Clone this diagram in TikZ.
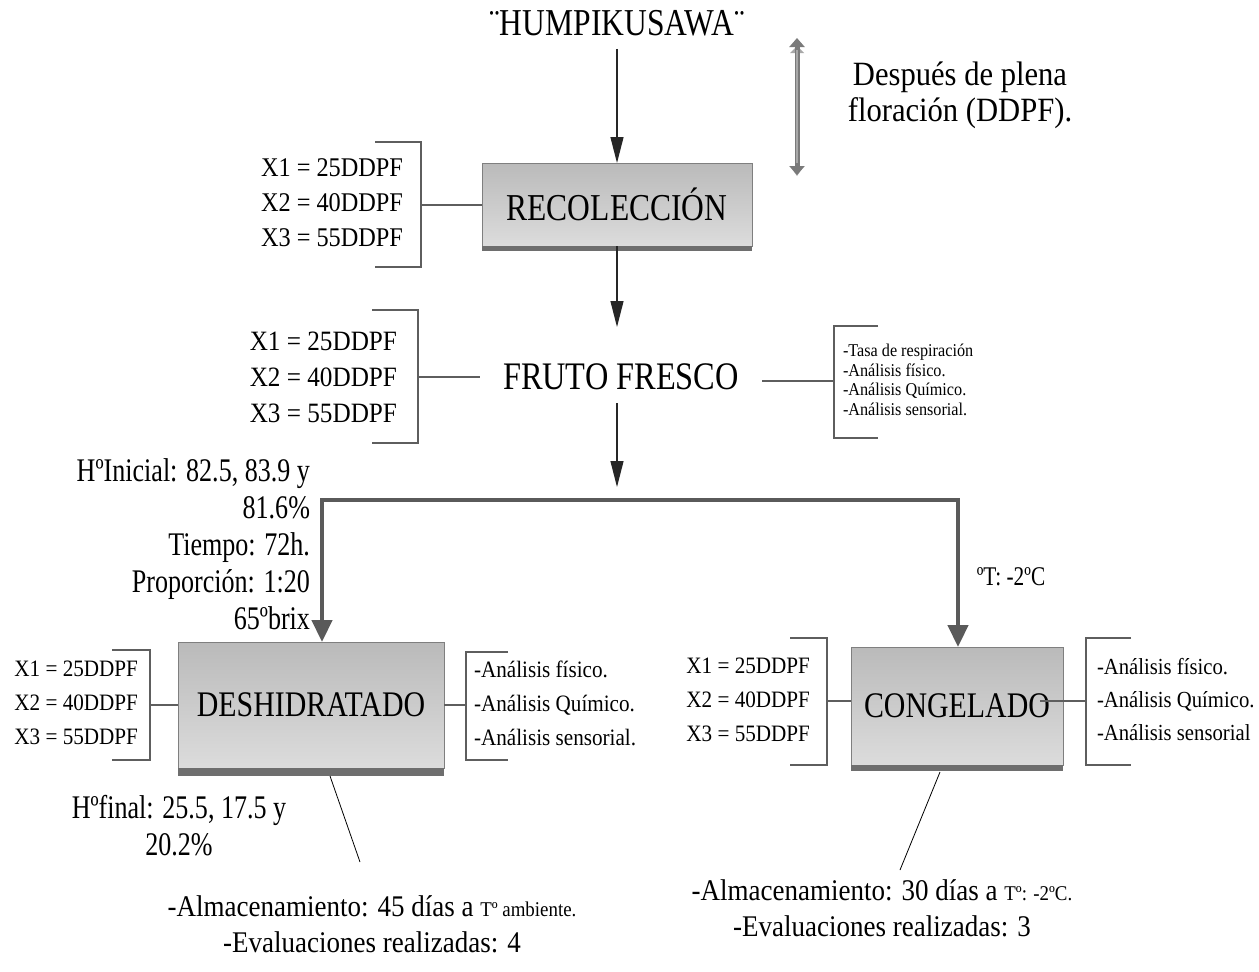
\documentclass[tikz,border=0pt]{standalone}
\usepackage{fontspec}
\setmainfont{Liberation Serif}[FakeStretch=0.9]
\newfontfamily\titlef{Liberation Serif}[FakeStretch=0.83]
\newfontfamily\narrowf{Liberation Serif}[FakeStretch=0.79]
\usetikzlibrary{arrows.meta,shadings,calc}
\definecolor{boxtop}{HTML}{BABABA}
\definecolor{boxbot}{HTML}{DCDCDC}
\definecolor{boxedge}{HTML}{7F7F7F}
\definecolor{boxshadow}{HTML}{6E6E6E}
\definecolor{brkgray}{HTML}{5E5E5E}
\definecolor{thickgray}{HTML}{5A5A5A}
\definecolor{dblgray}{HTML}{7A7A7A}
\definecolor{dblight}{HTML}{A8A8A8}
\begin{document}
\begin{tikzpicture}[x=1pt,y=-1pt,
  every node/.style={inner sep=0pt,outer sep=0pt},
  box/.style={draw=boxedge,line width=1pt,top color=boxtop,bottom color=boxbot,inner sep=0pt},
  shadowbar/.style={fill=boxshadow,draw=none},
  brk/.style={draw=brkgray,line width=2pt},
  thinarr/.style={draw=black!85,line width=1.2pt,-{Triangle[length=26pt,width=13pt]}},
  thickline/.style={draw=thickgray,line width=4.5pt,line join=miter},
  thickarr/.style={draw=thickgray,line width=4.5pt,line join=miter,-{Triangle[length=22pt,width=20pt]}},
  ptr/.style={draw=black,line width=0.8pt},
  titletext/.style={font=\titlef\fontsize{38}{42}\selectfont},
  boxtext/.style={font=\titlef\fontsize{36}{40}\selectfont},
  xlistsm/.style={font=\fontsize{23.5}{34}\selectfont,align=right,anchor=east},
  anlist/.style={font=\fontsize{23.5}{34}\selectfont,align=left,anchor=west},
  note/.style={font=\narrowf\fontsize{33}{37}\selectfont},
  bottomtext/.style={font=\fontsize{30}{36}\selectfont,align=center}
]
\useasboundingbox (0,0) rectangle (1259,972);
\fill[white] (0,0) rectangle (1259,972);

% ---- top ----
\node[titletext] (hum) at (617,23) {¨HUMPIKUSAWA¨};
\node[box,font=\titlef\fontsize{38}{42}\selectfont,minimum width=270pt,minimum height=83pt] (rec) at (617,204.5) {RECOLECCIÓN};
\fill[shadowbar] (rec.south west) rectangle ([yshift=-5pt]rec.south east);
\draw[thinarr] ([yshift=-13pt]hum.south) -- (rec.north);

% double arrow
\coordinate (dtop) at (797,38);
\coordinate (dbot) at (797,175);
\fill[dblight] (790,53) -- (804,53) -- (797,46) -- cycle;
\fill[dblight] (790,166) -- (804,166) -- (797,176) -- cycle;
\draw[draw=dblgray,line width=5pt,{Triangle[length=9pt,width=15pt]}-{Triangle[length=9pt,width=15pt]}] (dtop) -- (dbot);
\draw[draw=dblight,line width=1.6pt] (797,50) -- (797,163);
\node[font=\fontsize{34}{36}\selectfont,align=center] (desp) at (960,95) {Después de plena\\floración (DDPF).};

% recoleccion bracket
\draw[brk] (375,142) -- (421,142) -- (421,267) -- (375,267);
\coordinate (rLb) at (421,204.5);
\draw[brk] (rLb) -- (rec.west);
\node[font=\fontsize{27}{35}\selectfont,align=right,anchor=east] (rx) at (403,203) {X1 = 25DDPF\\X2 = 40DDPF\\X3 = 55DDPF};

% ---- fruto fresco ----
\node[font=\titlef\fontsize{39}{42}\selectfont,minimum width=282pt,minimum height=100pt] (fru) at (621,377) {FRUTO FRESCO};
\draw[thinarr] (rec.south) -- (rec.south |- fru.north);
\draw[brk] (372,310) -- (418,310) -- (418,443) -- (372,443);
\coordinate (fLb) at (418,377);
\draw[brk] (fLb) -- (fru.west);
\node[font=\fontsize{28}{36}\selectfont,align=right,anchor=east] (fx) at (397,377) {X1 = 25DDPF\\X2 = 40DDPF\\X3 = 55DDPF};
\draw[brk] (878,326) -- (834,326) -- (834,438) -- (878,438);
\coordinate (fRb) at (834,381);
\draw[brk] (fru.east |- fRb) -- (fRb);
\node[font=\fontsize{18}{19.5}\selectfont,align=left,anchor=west] (fan) at (843,380) {-Tasa de respiración\\-Análisis físico.\\-Análisis Químico.\\-Análisis sensorial.};

\coordinate (split) at (617,487);
\draw[thinarr] ($(fru.south -| rec.south)+(0,-24)$) -- (split);

% ---- branches ----
\node[box,boxtext,minimum width=266pt,minimum height=126pt] (des) at (311,705) {DESHIDRATADO};
\fill[shadowbar] (des.south west) rectangle ([yshift=-8pt]des.south east);
\node[box,boxtext,minimum width=212pt,minimum height=118pt] (con) at (957,706) {CONGELADO};
\fill[shadowbar] (con.south west) rectangle ([yshift=-6pt]con.south east);

\coordinate (jL) at (322,500);
\coordinate (jR) at (958,500);
\draw[thickline] (jL) -- (jR);
\draw[thickarr] ([xshift=20pt]jL) -- (jL) -- (jL |- des.north);
\draw[thickarr] ([xshift=-20pt]jR) -- (jR) -- (jR |- con.north);

\node[note,align=right,anchor=east] (hini) at (310,544) {HºInicial: 82.5, 83.9 y\\81.6\%\\Tiempo: 72h.\\Proporción: 1:20\\65ºbrix};
\node[font=\narrowf\fontsize{27}{30}\selectfont] (temp) at (1011,577) {ºT: -2ºC};

% deshidratado brackets
\draw[brk] (112,650) -- (150,650) -- (150,760) -- (112,760);
\coordinate (dLb) at (150,705);
\draw[brk] (dLb) -- (des.west);
\node[xlistsm] (dx) at (138,703) {X1 = 25DDPF\\X2 = 40DDPF\\X3 = 55DDPF};
\draw[brk] (508,652) -- (466,652) -- (466,760) -- (508,760);
\coordinate (dRb) at (466,705);
\draw[brk] (des.east) -- (dRb);
\node[anlist] (dan) at (474,703) {-Análisis físico.\\-Análisis Químico.\\-Análisis sensorial.};

% congelado brackets
\draw[brk] (790,638) -- (827,638) -- (827,765) -- (790,765);
\coordinate (cLb) at (827,701);
\draw[brk] (cLb) -- (con.west |- cLb);
\node[xlistsm] (cx) at (810,700) {X1 = 25DDPF\\X2 = 40DDPF\\X3 = 55DDPF};
\draw[brk] (1131,638) -- (1086,638) -- (1086,765) -- (1131,765);
\coordinate (cRb) at (1086,701);
\draw[brk] ([xshift=-23pt]con.east |- cRb) -- (cRb);
\node[anlist,font=\fontsize{23}{33}\selectfont] (can) at (1097,700) {-Análisis físico.\\-Análisis Químico.\\-Análisis sensorial};

% ---- bottom ----
\node[note,font=\narrowf\fontsize{33}{37}\selectfont,align=center] (hfin) at (179,826) {Hºfinal: 25.5, 17.5 y\\20.2\%};
\coordinate (pL1) at (330,776);
\coordinate (pL2) at (360,862);
\draw[ptr] (pL1) -- (pL2);
\coordinate (pR1) at (940,772);
\coordinate (pR2) at (900,870);
\draw[ptr] (pR1) -- (pR2);
\node[bottomtext] (almL) at (372,924) {-Almacenamiento: 45 días a {\fontsize{21}{22}\selectfont Tº ambiente.}\\-Evaluaciones realizadas: 4};
\node[bottomtext] (almR) at (882,908) {-Almacenamiento: 30 días a {\fontsize{21}{22}\selectfont Tº: -2ºC.}\\-Evaluaciones realizadas: 3};
\end{tikzpicture}
\end{document}
